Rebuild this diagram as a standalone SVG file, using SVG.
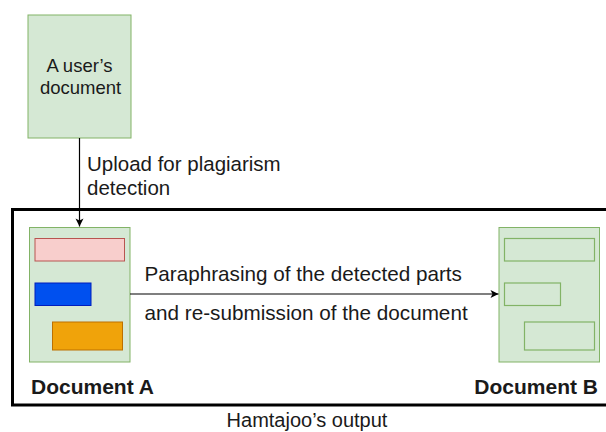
<svg xmlns="http://www.w3.org/2000/svg" width="606" height="432" viewBox="0 0 606 432">
  <style>
    .txt { font-family: "Liberation Sans", Arial, sans-serif; fill: #1a1a1a; }
    .doc { fill: #d5e8d4; stroke: #82b366; stroke-width: 1; }
    .part { fill: #d5e8d4; stroke: #82b366; stroke-width: 1.2; }
    .edge { fill: none; stroke: #000000; stroke-width: 1.2; }
  </style>
  <defs>
    <marker id="arrow" markerWidth="10" markerHeight="10" refX="9" refY="5" orient="auto" markerUnits="userSpaceOnUse">
      <path d="M1,1 L9,5 L1,9 L3,5 Z" fill="#000000"/>
    </marker>
  </defs>
  <rect width="606" height="432" fill="#ffffff"/>

  <!-- output frame -->
  <g id="output-frame">
    <rect x="12.5" y="209.5" width="600" height="195.5" fill="none" stroke="#000000" stroke-width="3"/>
    <text class="txt" x="307" y="427" font-size="20" text-anchor="middle">Hamtajoo’s output</text>
  </g>

  <!-- uploaded document -->
  <g id="user-document">
    <rect class="doc" x="28" y="15" width="103" height="123"/>
    <text class="txt" x="79.5" y="71.5" font-size="18.5" text-anchor="middle">A user’s</text>
    <text class="txt" x="80.5" y="93.5" font-size="18.5" text-anchor="middle">document</text>
  </g>

  <!-- document A with detected parts -->
  <g id="document-a">
    <rect class="doc" x="29.5" y="227.5" width="100.5" height="134.5"/>
    <rect x="35" y="238.5" width="89.5" height="22.5" fill="#f8cecc" stroke="#b85450" stroke-width="1"/>
    <rect x="35" y="283" width="56" height="22.5" fill="#0050ef" stroke="#001dbc" stroke-width="1"/>
    <rect x="52.5" y="322" width="70" height="28" fill="#f0a30a" stroke="#bd7000" stroke-width="1"/>
    <text class="txt" x="31" y="394" font-size="21" font-weight="bold">Document A</text>
  </g>

  <!-- document B with rewritten parts -->
  <g id="document-b">
    <rect class="doc" x="499" y="227.5" width="100.5" height="134.5"/>
    <rect class="part" x="504.5" y="238.5" width="90" height="22.5"/>
    <rect class="part" x="504.5" y="283" width="56" height="22.5"/>
    <rect class="part" x="524.5" y="322" width="70" height="28"/>
    <text class="txt" x="598" y="394" font-size="21" font-weight="bold" text-anchor="end">Document B</text>
  </g>

  <!-- connectors -->
  <g id="connectors">
    <path class="edge" d="M79.5,138 L79.5,226.5" marker-end="url(#arrow)"/>
    <text class="txt" x="87" y="171" font-size="20.5">Upload for plagiarism</text>
    <text class="txt" x="87" y="195" font-size="20.5">detection</text>
    <path class="edge" d="M130,294 L498.5,294" marker-end="url(#arrow)"/>
    <text class="txt" x="144.5" y="281" font-size="20.7">Paraphrasing of the detected parts</text>
    <text class="txt" x="144.5" y="320" font-size="20.7">and re-submission of the document</text>
  </g>
</svg>
